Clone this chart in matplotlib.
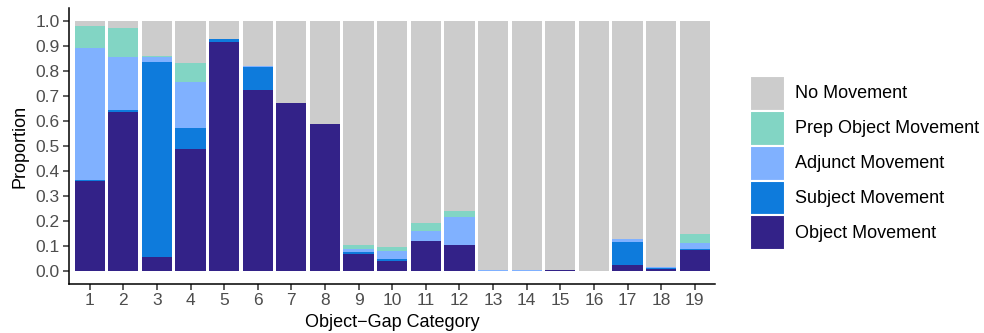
import numpy as np
import matplotlib
matplotlib.use("Agg")
import matplotlib.pyplot as plt
from matplotlib.patches import Patch

plt.rcParams['font.family'] = ['Liberation Sans', 'DejaVu Sans']

categories = [str(i) for i in range(1, 20)]

object_mv = [0.360, 0.637, 0.056, 0.489, 0.917, 0.725, 0.672, 0.588, 0.069, 0.041,
             0.121, 0.105, 0.000, 0.000, 0.004, 0.000, 0.025, 0.009, 0.085]
subject_mv = [0.003, 0.006, 0.781, 0.084, 0.012, 0.091, 0.000, 0.000, 0.007, 0.008,
              0.000, 0.000, 0.000, 0.000, 0.002, 0.000, 0.092, 0.004, 0.004]
adjunct_mv = [0.530, 0.213, 0.020, 0.184, 0.000, 0.005, 0.000, 0.000, 0.013, 0.031,
              0.040, 0.112, 0.003, 0.004, 0.000, 0.002, 0.010, 0.003, 0.023]
prep_mv = [0.088, 0.117, 0.003, 0.076, 0.000, 0.000, 0.000, 0.000, 0.015, 0.016,
           0.032, 0.024, 0.000, 0.000, 0.000, 0.000, 0.002, 0.000, 0.037]
no_mv = [1 - (o + s + a + p) for o, s, a, p in zip(object_mv, subject_mv, adjunct_mv, prep_mv)]

series = ["Object Movement", "Subject Movement", "Adjunct Movement",
          "Prep Object Movement", "No Movement"]
values = [object_mv, subject_mv, adjunct_mv, prep_mv, no_mv]
colors = ["#332288", "#0E7BDC", "#80B1FF", "#82D5C4", "#CCCCCC"]

fig = plt.figure(figsize=(9.84, 3.33), dpi=100)
ax = fig.add_axes([0.0706, 0.1486, 0.656, 0.826])

x = np.arange(1, len(categories) + 1)
bottom = np.zeros(len(categories))
for name, vals, col in zip(series, values, colors):
    v = np.array(vals)
    ax.bar(x, v, bottom=bottom, width=0.9, color=col, edgecolor="none", label=name)
    bottom += v

ax.set_xlim(0.4, 19.6)
ax.set_ylim(-0.05, 1.05)
ax.set_xticks(x)
ax.set_xticklabels(categories)
ax.set_yticks(np.arange(0, 1.01, 0.1))
ax.set_yticklabels([f"{t:.1f}" for t in np.arange(0, 1.01, 0.1)])

for side in ("top", "right"):
    ax.spines[side].set_visible(False)
for side in ("left", "bottom"):
    ax.spines[side].set_linewidth(1.1)
    ax.spines[side].set_color("black")

ax.tick_params(axis="both", colors="#333333", labelcolor="#4D4D4D",
               labelsize=12.5, length=4, width=1.1, direction="out", pad=3)
ax.set_xlabel("Object\u2212Gap Category", fontsize=13, color="black", labelpad=4)
ax.set_ylabel("Proportion", fontsize=13, color="black", labelpad=5)

# stacked legend keys separated by thin white borders
handles = [Patch(facecolor=c, edgecolor="white", linewidth=1.5) for c in colors[::-1]]
labels = series[::-1]
fig.legend(handles, labels, loc="center left", bbox_to_anchor=(0.762, 0.5105),
           frameon=False, fontsize=13, handlelength=1.94, handleheight=2.605,
           labelspacing=0.0, handletextpad=0.55, borderpad=0, borderaxespad=0)

fig.savefig("out.png", dpi=100)
